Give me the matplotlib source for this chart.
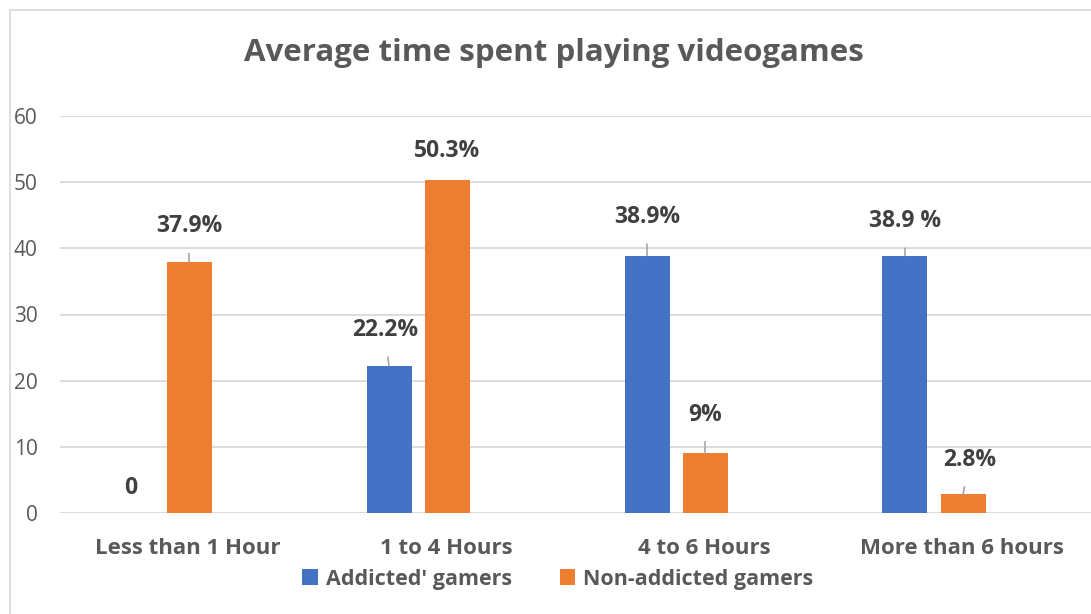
import numpy as np
import matplotlib.pyplot as plt
from matplotlib.patches import Rectangle

# Datos del grafico
categories = ['Less than 1 Hour', '1 to 4 Hours', '4 to 6 Hours', 'More than 6 hours']
addicted = [0, 22.2, 38.9, 38.9]
non_addicted = [37.9, 50.3, 9, 2.8]
addicted_labels = ['0', '22.2%', '38.9%', '38.9 %']
non_addicted_labels = ['37.9%', '50.3%', '9%', '2.8%']
series_names = ["Addicted' gamers", "Non-addicted gamers"]
y_ticks = [0, 10, 20, 30, 40, 50, 60]

BLUE = '#4472C4'
ORANGE = '#ED7D31'
TXT = '#595959'
LBL = '#404040'
FONT = 'Open Sans'

W, H = 1091, 614
fig = plt.figure(figsize=(W / 100, H / 100), dpi=100)

# Borde del area del grafico (solo arriba e izquierda visibles)
fig.patches.append(Rectangle((9.5 / W, -0.1), 1.2, (H - 9.5) / H + 0.1,
                             transform=fig.transFigure, fill=False,
                             edgecolor='#D9D9D9', lw=1.2))

# Area de trazado: y=0 en 513 px, y=60 en 116 px, izquierda 60 px
ax = fig.add_axes([60 / W, (H - 513) / H, (W - 60) / W, (513 - 116) / H])

x = np.arange(len(categories))
cat_px = 258.0           # ancho de categoria en pixeles
off = 29 / cat_px
width = 45 / cat_px

b1 = ax.bar(x - off, addicted, width, color=BLUE, label=series_names[0], zorder=3)
b2 = ax.bar(x + off, non_addicted, width, color=ORANGE, label=series_names[1], zorder=3)

ax.set_xlim(-100 / cat_px, -100 / cat_px + (W - 60) / cat_px)
ax.set_ylim(0, 60)
ax.set_yticks(y_ticks)
ax.tick_params(axis='y', length=0, pad=16, labelsize=15, labelcolor=TXT)
ax.set_xticks(x + 28 / cat_px)
ax.set_xticklabels(categories, fontsize=16, fontweight='bold', color=TXT, family=FONT)
ax.tick_params(axis='x', length=0, pad=18)
for t in ax.get_yticklabels():
    t.set_family(FONT)

ax.yaxis.grid(True, color='#D9D9D9', lw=1.3, zorder=0)
for s in ax.spines.values():
    s.set_visible(False)

fig.text(554 / W, (H - 53) / H, 'Average time spent playing videogames', fontsize=22.5,
         fontweight='bold', color=TXT, family=FONT, ha='center', va='center')

# Etiquetas de datos con linea guia (desplazamientos en puntos)
a_offsets = [(0, 18), (-3, 26), (0, 28), (0, 25)]
n_offsets = [(0, 26), (0, 21), (0, 28), (5, 25)]


def label(bars, texts, offsets):
    for rect, txt, (dx, dy) in zip(bars, texts, offsets):
        xc = rect.get_x() + rect.get_width() / 2
        h = rect.get_height()
        lead = dict(arrowstyle='-', color='#A6A6A6', lw=1.2, shrinkA=9, shrinkB=0) if h > 0 and dy > 22 else None
        ax.annotate(txt, xy=(xc, h), xytext=(dx, dy), textcoords='offset points',
                    ha='center', va='center', fontsize=16.5, fontweight='bold',
                    color=LBL, family=FONT, arrowprops=lead, zorder=4)


label(b1, addicted_labels, a_offsets)
label(b2, non_addicted_labels, n_offsets)

leg = fig.legend(loc='center', bbox_to_anchor=(558 / W, (H - 579) / H), ncol=2,
                 frameon=False, handlelength=0.7, handleheight=0.7, handletextpad=0.4,
                 columnspacing=2.2, prop={'family': FONT, 'weight': 'bold', 'size': 15.5})
for t in leg.get_texts():
    t.set_color(TXT)

fig.savefig('out.png', dpi=100)
